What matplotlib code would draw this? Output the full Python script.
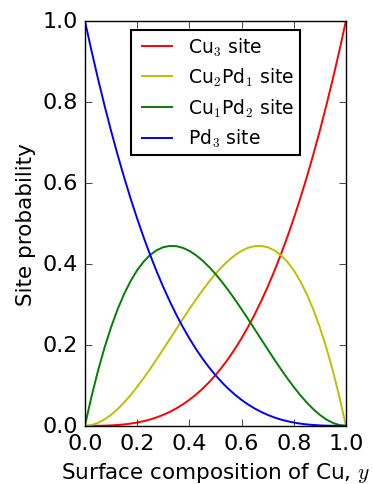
import matplotlib
matplotlib.use("Agg")
import matplotlib.pyplot as plt

plt.style.use("classic")
plt.rcParams["mathtext.fontset"] = "cm"
plt.rcParams["font.family"] = ["DejaVu Sans"]

y = [0.0, 0.025, 0.05, 0.075, 0.1, 0.125, 0.15, 0.175, 0.2, 0.225, 0.25,
     0.275, 0.3, 0.325, 0.35, 0.375, 0.4, 0.425, 0.45, 0.475, 0.5,
     0.525, 0.55, 0.575, 0.6, 0.625, 0.65, 0.675, 0.7, 0.725, 0.75,
     0.775, 0.8, 0.825, 0.85, 0.875, 0.9, 0.925, 0.95, 0.975, 1.0]
cu3 = [0.0, 0.0, 0.0001, 0.0004, 0.001, 0.002, 0.0034, 0.0054, 0.008, 0.0114, 0.0156,
       0.0208, 0.027, 0.0343, 0.0429, 0.0527, 0.064, 0.0768, 0.0911, 0.1072, 0.125,
       0.1447, 0.1664, 0.1901, 0.216, 0.2441, 0.2746, 0.3075, 0.343, 0.3811, 0.4219,
       0.4655, 0.512, 0.5615, 0.6141, 0.6699, 0.729, 0.7915, 0.8574, 0.9269, 1.0]
cu2pd1 = [0.0, 0.0018, 0.0071, 0.0156, 0.027, 0.041, 0.0574, 0.0758, 0.096, 0.1177, 0.1406,
          0.1645, 0.189, 0.2139, 0.2389, 0.2637, 0.288, 0.3116, 0.3341, 0.3554, 0.375,
          0.3928, 0.4084, 0.4215, 0.432, 0.4395, 0.4436, 0.4442, 0.441, 0.4336, 0.4219,
          0.4054, 0.384, 0.3573, 0.3251, 0.2871, 0.243, 0.1925, 0.1354, 0.0713, 0.0]
cu1pd2 = [0.0, 0.0713, 0.1354, 0.1925, 0.243, 0.2871, 0.3251, 0.3573, 0.384, 0.4054, 0.4219,
          0.4336, 0.441, 0.4442, 0.4436, 0.4395, 0.432, 0.4215, 0.4084, 0.3928, 0.375,
          0.3554, 0.3341, 0.3116, 0.288, 0.2637, 0.2389, 0.2139, 0.189, 0.1645, 0.1406,
          0.1177, 0.096, 0.0758, 0.0574, 0.041, 0.027, 0.0156, 0.0071, 0.0018, 0.0]
pd3 = [1.0, 0.9269, 0.8574, 0.7915, 0.729, 0.6699, 0.6141, 0.5615, 0.512, 0.4655, 0.4219,
       0.3811, 0.343, 0.3075, 0.2746, 0.2441, 0.216, 0.1901, 0.1664, 0.1447, 0.125,
       0.1072, 0.0911, 0.0768, 0.064, 0.0527, 0.0429, 0.0343, 0.027, 0.0208, 0.0156,
       0.0114, 0.008, 0.0054, 0.0034, 0.002, 0.001, 0.0004, 0.0001, 0.0, 0.0]
labels = ["Cu$_3$ site", "Cu$_2$Pd$_1$ site", "Cu$_1$Pd$_2$ site", "Pd$_3$ site"]
colors = ["r", "y", "g", "b"]
series = [cu3, cu2pd1, cu1pd2, pd3]

fig = plt.figure(figsize=(3.74, 4.85), dpi=100, facecolor="white")
ax = fig.add_axes([0.227, 0.12, 0.698, 0.835])
for s, c, l in zip(series, colors, labels):
    ax.plot(y, s, color=c, lw=1.4, label=l)

ax.set_xlim(0, 1)
ax.set_ylim(0, 1)
ax.set_xticks([0, 0.2, 0.4, 0.6, 0.8, 1.0])
ax.set_yticks([0, 0.2, 0.4, 0.6, 0.8, 1.0])
ax.tick_params(labelsize=16, direction="in", length=5, pad=5)
ax.set_xlabel("Surface composition of Cu, $y$", fontsize=15.5)
ax.set_ylabel("Site probability", fontsize=15.5)
leg = ax.legend(loc="upper center", bbox_to_anchor=(0.5, 0.978), borderaxespad=0,
                fontsize=13.5, frameon=True, fancybox=False, handlelength=2.2,
                handletextpad=0.55, borderpad=0.3, labelspacing=0.45)
leg.get_frame().set_edgecolor("black")
leg.get_frame().set_linewidth(1.5)
fig.savefig("out.png", dpi=100, facecolor="white")
